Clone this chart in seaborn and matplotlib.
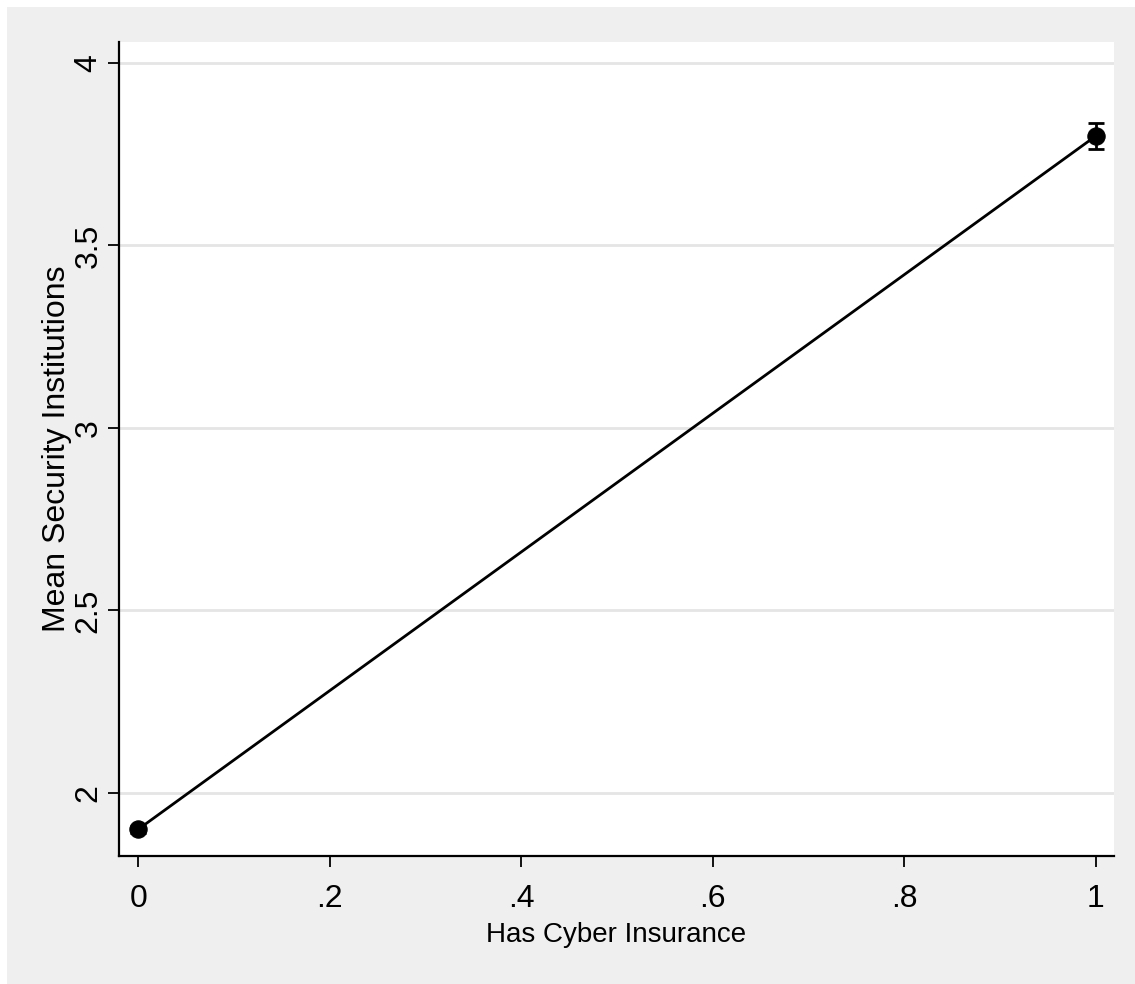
import matplotlib
matplotlib.use("Agg")
import matplotlib.pyplot as plt
import seaborn as sns
import pandas as pd
from matplotlib.patches import Rectangle

# values
has_insurance = [0, 1]
mean_security = [1.90, 3.80]
ci_low = [1.89, 3.765]
ci_high = [1.91, 3.835]
x_ticks = [0, 0.2, 0.4, 0.6, 0.8, 1]
x_tick_labels = ["0", ".2", ".4", ".6", ".8", "1"]
y_ticks = [2, 2.5, 3, 3.5, 4]
y_tick_labels = ["2", "2.5", "3", "3.5", "4"]

sns.set_style("white")
plt.rcParams["font.family"] = ["Liberation Sans", "DejaVu Sans"]
plt.rcParams.update({"text.color": "black", "axes.labelcolor": "black",
                     "xtick.color": "black", "ytick.color": "black"})

df = pd.DataFrame({"insurance": has_insurance, "mean": mean_security})

fig = plt.figure(figsize=(11.35, 9.84), dpi=100, facecolor="white")
fig.patches.append(Rectangle((7 / 1135, 0), 1, 1 - 7 / 984, transform=fig.transFigure,
                             facecolor="#efefef", edgecolor="none", zorder=-5))
ax = fig.add_axes([119 / 1135, 1 - 856 / 984, (1114 - 119) / 1135, (856 - 42) / 984])
ax.set_zorder(1)
ax.set_facecolor("white")

for y in y_ticks:
    ax.axhline(y, color="#e5e5e5", lw=2, zorder=0)

sns.lineplot(data=df, x="insurance", y="mean", ax=ax, color="black", lw=2,
             marker="o", markersize=12.5, markeredgecolor="black", zorder=3)
yerr = [[m - lo for m, lo in zip(mean_security, ci_low)],
        [hi - m for m, hi in zip(mean_security, ci_high)]]
ax.errorbar(has_insurance, mean_security, yerr=yerr, fmt="none", ecolor="black",
            elinewidth=2, capsize=5.5, capthick=2, zorder=4)

ax.set_xlim(-0.02, 1.019)
ax.set_ylim(1.827, 4.0575)
ax.set_xticks(x_ticks)
ax.set_xticklabels(x_tick_labels)
ax.set_yticks(y_ticks)
ax.set_yticklabels(y_tick_labels, rotation=90, va="center")

for side in ["top", "right"]:
    ax.spines[side].set_visible(False)
for side in ["left", "bottom"]:
    ax.spines[side].set_color("black")
    ax.spines[side].set_linewidth(1.6)

ax.tick_params(axis="both", direction="out", length=8, width=1.3, color="black",
               labelsize=23, left=True, bottom=True)
ax.tick_params(axis="x", pad=12)
ax.tick_params(axis="y", pad=3)
ax.set_xlabel("Has Cyber Insurance", fontsize=20, labelpad=6)
ax.set_ylabel("Mean Security Institutions", fontsize=23, labelpad=1)

fig.savefig("out.png", dpi=100, facecolor=fig.get_facecolor())
